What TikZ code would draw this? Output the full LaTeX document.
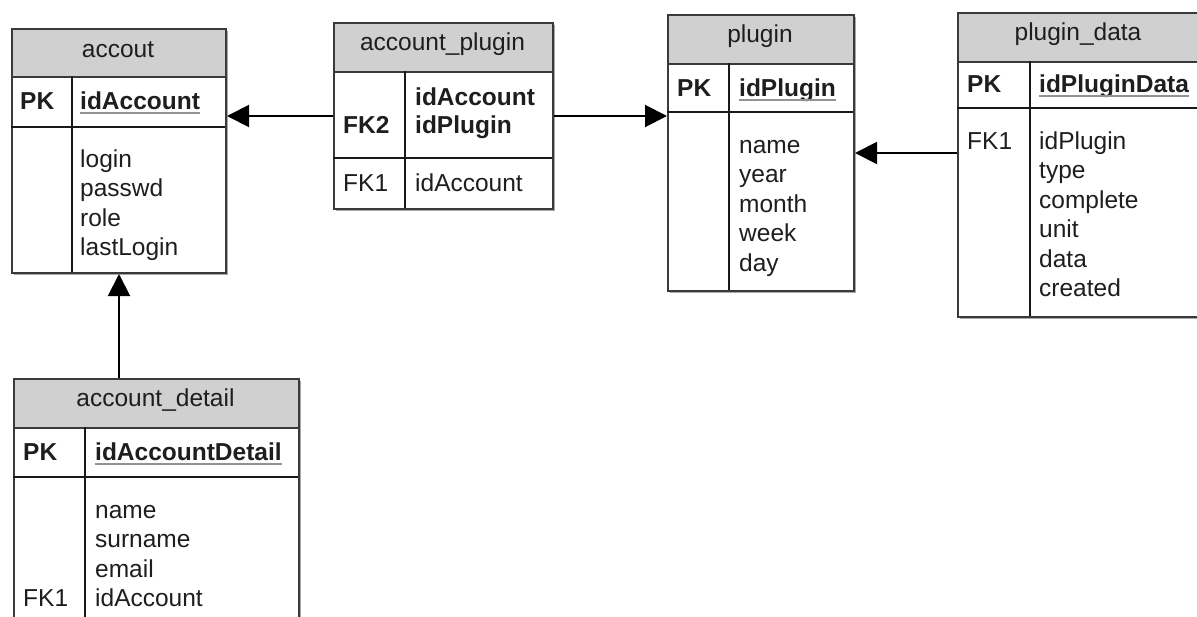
\documentclass[tikz,border=0pt]{standalone}
\usepackage{fontspec}
\setmainfont{Liberation Sans}
\usetikzlibrary{arrows.meta,calc}
\definecolor{hdr}{HTML}{D0D0D0}
\definecolor{edge}{HTML}{3A3A3A}
\definecolor{txtc}{HTML}{1E1E1E}
\definecolor{shd}{HTML}{A8A8A8}
\begin{document}
\begin{tikzpicture}[x=1pt,y=-1pt,
  tbl/.style={draw=edge, line width=2pt, fill=white, inner sep=0pt, anchor=north west},
  hd/.style={draw=edge, line width=2pt, fill=hdr, inner sep=0pt, anchor=north west},
  sep/.style={draw=black!90, line width=1.8pt},
  shadow/.style={fill=shd},
  txt/.style={inner sep=0pt, anchor=base west, text=txtc, font=\fontsize{24.5}{29.5}\selectfont},
  ttl/.style={txt, anchor=base},
  key/.style={txt, font=\fontsize{24.5}{29.5}\selectfont\bfseries},
  ul/.style={draw=gray!85, line width=2pt},
  fk/.style={draw=black, line width=2pt, -{Triangle[length=22pt,width=22pt]}},
]
\path[use as bounding box] (0,0) rectangle (1197,616);
\clip (0,0) rectangle (1197,616);

% ---------- accout ----------
\fill[shadow] (13.5,30.5) rectangle (227.5,274.5);
\node[tbl, minimum width=214pt, minimum height=244pt] (accout) at (11,28) {};
\node[hd, minimum width=214pt, minimum height=48pt] (accout-h) at (11,28) {};
\draw[sep] (11,127) -- (225,127);
\draw[sep] (72,76) -- (72,272);
\node[ttl] (accout-t) at (118,57) {accout};
\node[key] (accout-pk) at (20,109) {PK};
\node[key] (accout-id) at (80,109) {idAccount};
\draw[ul] ([yshift=-4pt]accout-id.base west) -- ([yshift=-4pt]accout-id.base east);
\foreach \t [count=\i] in {login,passwd,role,lastLogin}
  \node[txt] (accout-f\i) at (80,{167+(\i-1)*29.5}) {\t};

% ---------- account_plugin ----------
\fill[shadow] (335.5,24.5) rectangle (554.5,210.5);
\node[tbl, minimum width=219pt, minimum height=186pt] (ap) at (333,22) {};
\node[hd, minimum width=219pt, minimum height=49pt] (ap-h) at (333,22) {};
\draw[sep] (333,158) -- (552,158);
\draw[sep] (405,71) -- (405,208);
\node[ttl] (ap-t) at (442.5,50) {account\_plugin};
\node[key] (ap-fk2) at (343,133) {FK2};
\node[key] (ap-f1) at (415,105) {idAccount};
\node[key] (ap-f2) at (415,133) {idPlugin};
\node[txt] (ap-fk1) at (343,191) {FK1};
\node[txt] (ap-f3) at (415,191) {idAccount};

% ---------- plugin ----------
\fill[shadow] (669.5,16.5) rectangle (855.5,292.5);
\node[tbl, minimum width=186pt, minimum height=276pt] (plugin) at (667,14) {};
\node[hd, minimum width=186pt, minimum height=49pt] (plugin-h) at (667,14) {};
\draw[sep] (667,112) -- (853,112);
\draw[sep] (729,63) -- (729,290);
\node[ttl] (plugin-t) at (760,42) {plugin};
\node[key] (plugin-pk) at (677,96) {PK};
\node[key] (plugin-id) at (739,96) {idPlugin};
\draw[ul] ([yshift=-4pt]plugin-id.base west) -- ([yshift=-4pt]plugin-id.base east);
\foreach \t [count=\i] in {name,year,month,week,day}
  \node[txt] (plugin-f\i) at (739,{153+(\i-1)*29.5}) {\t};

% ---------- plugin_data ----------
\fill[shadow] (959.5,14.5) rectangle (1201.5,318.5);
\node[tbl, minimum width=242pt, minimum height=304pt] (pd) at (957,12) {};
\node[hd, minimum width=242pt, minimum height=49pt] (pd-h) at (957,12) {};
\draw[sep] (957,108) -- (1199,108);
\draw[sep] (1030,61) -- (1030,316);
\node[ttl] (pd-t) at (1078,40) {plugin\_data};
\node[key] (pd-pk) at (967,92) {PK};
\node[key] (pd-id) at (1039,92) {idPluginData};
\draw[ul] ([yshift=-4pt]pd-id.base west) -- ([yshift=-4pt]pd-id.base east);
\node[txt] (pd-fk1) at (967,149) {FK1};
\foreach \t [count=\i] in {idPlugin,type,complete,unit,data,created}
  \node[txt] (pd-f\i) at (1039,{149+(\i-1)*29.5}) {\t};

% ---------- account_detail ----------
\fill[shadow] (15.5,380.5) rectangle (300.5,640.5);
\node[tbl, minimum width=285pt, minimum height=260pt] (ad) at (13,378) {};
\node[hd, minimum width=285pt, minimum height=49pt] (ad-h) at (13,378) {};
\draw[sep] (13,477) -- (298,477);
\draw[sep] (85,427) -- (85,638);
\node[ttl] (ad-t) at (155.5,406) {account\_detail};
\node[key] (ad-pk) at (23,460) {PK};
\node[key] (ad-id) at (95,460) {idAccountDetail};
\draw[ul] ([yshift=-4pt]ad-id.base west) -- ([yshift=-4pt]ad-id.base east);
\foreach \t [count=\i] in {name,surname,email,idAccount}
  \node[txt] (ad-f\i) at (95,{518+(\i-1)*29.5}) {\t};
\node[txt] (ad-fk1) at (23,606.5) {FK1};

% ---------- connectors ----------
\draw[fk] (ap.west) -- (accout.east |- ap.west);
\draw[fk] (ap.east) -- (plugin.west |- ap.east);
\draw[fk] (pd.west |- plugin.east) -- (plugin.east);
\draw[fk] (ad.north -| accout.south) -- (accout.south);
\end{tikzpicture}
\end{document}
